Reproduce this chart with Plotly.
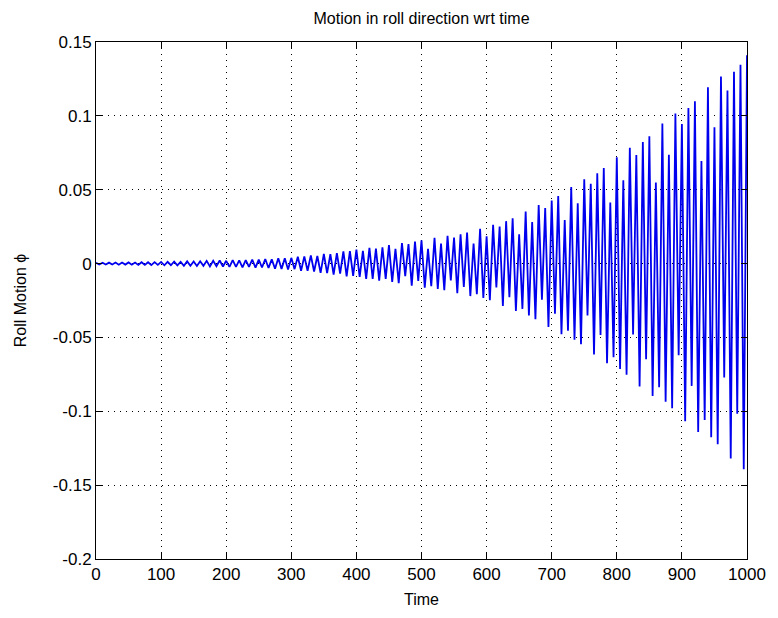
import plotly.graph_objects as go

# Sample times (successive turning points of the roll signal)
time = list(range(0, 1001, 5))

# Roll motion values at those times
roll = [
    0.00060, -0.00059, 0.00058, -0.00066, 0.00063, -0.00060, 0.00072, -0.00074, 0.00072, -0.00070,
    0.00080, -0.00076, 0.00073, -0.00089, 0.00092, -0.00090, 0.00088, -0.00101, 0.00096, -0.00091,
    0.00110, -0.00115, 0.00114, -0.00113, 0.00130, -0.00124, 0.00119, -0.00145, 0.00150, -0.00147,
    0.00144, -0.00166, 0.00158, -0.00151, 0.00184, -0.00190, 0.00186, -0.00182, 0.00208, -0.00197,
    0.00187, -0.00226, 0.00232, -0.00226, 0.00220, -0.00250, 0.00236, -0.00223, 0.00268, -0.00274,
    0.00266, -0.00265, 0.00308, -0.00296, 0.00286, -0.00350, 0.00364, -0.00359, 0.00353, -0.00406,
    0.00386, -0.00377, 0.00466, -0.00489, 0.00486, -0.00482, 0.00558, -0.00535, 0.00513, -0.00627,
    0.00650, -0.00646, 0.00639, -0.00740, 0.00708, -0.00680, 0.00830, -0.00860, 0.00846, -0.00828,
    0.00950, -0.00902, 0.00859, -0.01040, 0.01070, -0.01045, 0.01017, -0.01160, 0.01095, -0.01037,
    0.01250, -0.01246, 0.00990, -0.01328, 0.01390, -0.00855, 0.01314, -0.01495, 0.01484, -0.01174,
    0.01568, -0.01635, 0.01002, -0.01535, 0.01740, -0.01722, 0.01358, -0.01808, 0.01880, -0.01149,
    0.01755, -0.02000, 0.01989, -0.01575, 0.02107, -0.02200, 0.01350, -0.02070, 0.02350, -0.02328,
    0.01838, -0.02484, 0.02620, -0.01623, 0.02511, -0.02875, 0.02871, -0.02284, 0.03067, -0.03215,
    0.01980, -0.03069, 0.03520, -0.03521, 0.02805, -0.03773, 0.03960, -0.02442, 0.03762, -0.04290,
    0.04268, -0.03398, 0.04567, -0.04790, 0.02952, -0.04545, 0.05180, -0.05151, 0.04080, -0.05459,
    0.05700, -0.03510, 0.05400, -0.06150, 0.06111, -0.04838, 0.06468, -0.06750, 0.04140, -0.06345,
    0.07200, -0.07139, 0.05640, -0.07526, 0.07840, -0.04800, 0.07344, -0.08320, 0.08226, -0.06480,
    0.08624, -0.08970, 0.05484, -0.08379, 0.09480, -0.09361, 0.07365, -0.09790, 0.10160, -0.06198,
    0.09450, -0.10680, 0.10534, -0.08280, 0.10996, -0.11400, 0.06948, -0.10584, 0.11940, -0.11756,
    0.09225, -0.12230, 0.12660, -0.07704, 0.11718, -0.13200, 0.12979, -0.10170, 0.13465, -0.13920,
    0.14100,
]

x_ticks = [0, 100, 200, 300, 400, 500, 600, 700, 800, 900, 1000]
y_ticks = [-0.2, -0.15, -0.1, -0.05, 0, 0.05, 0.1, 0.15]
y_labels = ["-0.2", "-0.15", "-0.1", "-0.05", "0", "0.05", "0.1", "0.15"]

FONT = "Liberation Sans, Arial, sans-serif"

fig = go.Figure()
fig.add_trace(go.Scatter(
    x=time, y=roll, mode="lines",
    line=dict(color="#0000EE", width=1.8),
    showlegend=False, hoverinfo="skip",
))

axis_common = dict(
    showline=True, linecolor="black", linewidth=1, mirror="ticks",
    ticks="inside", ticklen=6, tickcolor="black", tickwidth=1,
    showgrid=True, gridcolor="black", gridwidth=1, griddash="1px,5px",
    zeroline=False,
    tickfont=dict(family=FONT, size=17, color="black"),
)

fig.update_xaxes(
    range=[0, 1000], tickvals=x_ticks, ticktext=[str(v) for v in x_ticks],
    title=dict(text="Time", font=dict(family=FONT, size=16, color="black"), standoff=10),
    **axis_common,
)
fig.update_yaxes(
    range=[-0.2, 0.15], tickvals=y_ticks, ticktext=y_labels,
    title=dict(text="Roll Motion ϕ", font=dict(family=FONT, size=16, color="black"), standoff=22),
    **axis_common,
)

# the page body has an 8px margin, so the figure is sized/offset to compensate
fig.update_layout(
    width=770, height=610,
    margin=dict(l=85, r=24, t=34, b=55),
    paper_bgcolor="white", plot_bgcolor="white",
    title=dict(text="Motion in roll direction wrt time", x=0.5, xref="paper",
               xanchor="center", y=1 - 10 / 610, yanchor="middle",
               font=dict(family=FONT, size=16, color="black")),
)

fig.write_html("out.html")
